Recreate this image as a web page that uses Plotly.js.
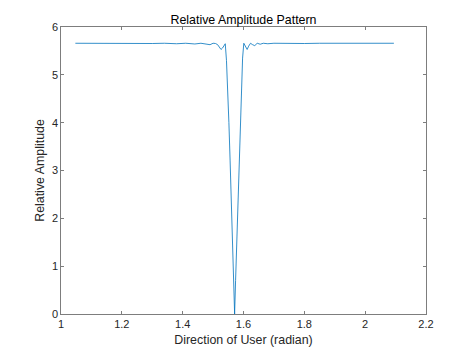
<!DOCTYPE html>
<html>
<head>
<meta charset="utf-8">
<script src="https://cdn.plot.ly/plotly-3.0.1.min.js"></script>
<style>html,body{margin:0;padding:0;background:#fff}#chart{width:471px;height:353px}</style>
</head>
<body>
<div id="chart"></div>
<script>
// Direction of user (radian)
const theta = [1.0472, 1.10, 1.15, 1.20, 1.25, 1.30, 1.34, 1.38, 1.41, 1.44, 1.46, 1.475, 1.49, 1.50, 1.508, 1.515, 1.521, 1.526, 1.531, 1.536, 1.540, 1.544, 1.548, 1.552, 1.556, 1.560, 1.564, 1.5675, 1.5708, 1.574, 1.578, 1.582, 1.586, 1.590, 1.594, 1.597, 1.601, 1.606, 1.612, 1.617, 1.623, 1.630, 1.637, 1.645, 1.655, 1.665, 1.68, 1.70, 1.73, 1.76, 1.80, 1.85, 1.90, 1.95, 2.00, 2.05, 2.0944];
// Relative amplitude
const amplitude = [5.66, 5.657, 5.66, 5.655, 5.66, 5.655, 5.66, 5.65, 5.66, 5.645, 5.66, 5.64, 5.63, 5.66, 5.655, 5.63, 5.57, 5.53, 5.56, 5.62, 5.65, 5.30, 4.75, 4.00, 3.20, 2.33, 1.47, 0.72, 0.0, 0.70, 1.55, 2.40, 3.25, 4.10, 4.85, 5.35, 5.66, 5.59, 5.53, 5.60, 5.66, 5.63, 5.61, 5.66, 5.64, 5.66, 5.65, 5.66, 5.655, 5.66, 5.655, 5.66, 5.657, 5.66, 5.657, 5.66, 5.66];

const xTicks = [1, 1.2, 1.4, 1.6, 1.8, 2, 2.2];
const xTickLabels = ['1', '1.2', '1.4', '1.6', '1.8', '2', '2.2'];
const yTicks = [0, 1, 2, 3, 4, 5, 6];

const axisColor = '#262626';
const font = 'Liberation Sans, Arial, Helvetica, sans-serif';

const trace = {
  x: theta, y: amplitude, type: 'scatter', mode: 'lines',
  line: {color: '#0072BD', width: 0.8}, hoverinfo: 'skip'
};

const layout = {
  width: 471, height: 353,
  margin: {l: 61, r: 45, t: 27, b: 39},
  paper_bgcolor: '#ffffff', plot_bgcolor: '#ffffff',
  font: {family: font, size: 11, color: axisColor},
  showlegend: false,
  title: {
    text: 'Relative Amplitude Pattern',
    font: {family: font, size: 12.4, color: '#000'},
    x: 0.5, xref: 'paper', xanchor: 'center',
    y: 1, yref: 'paper', yanchor: 'bottom', pad: {b: 3}
  },
  xaxis: {
    range: [1, 2.2], tickvals: xTicks, ticktext: xTickLabels,
    ticks: 'inside', ticklen: 3, tickwidth: 0.6, tickcolor: axisColor,
    showline: true, linecolor: axisColor, linewidth: 0.6, mirror: 'ticks',
    showgrid: false, zeroline: false,
    tickfont: {family: font, size: 11, color: axisColor},
    title: {text: 'Direction of User (radian)', font: {family: font, size: 12.4, color: axisColor}, standoff: 6}
  },
  yaxis: {
    range: [0, 6], tickvals: yTicks,
    ticks: 'inside', ticklen: 3, tickwidth: 0.6, tickcolor: axisColor,
    showline: true, linecolor: axisColor, linewidth: 0.6, mirror: 'ticks',
    showgrid: false, zeroline: false,
    tickfont: {family: font, size: 11, color: axisColor},
    title: {text: 'Relative Amplitude', font: {family: font, size: 12.4, color: axisColor}, standoff: 4}
  }
};

Plotly.newPlot('chart', [trace], layout, {staticPlot: true, displayModeBar: false});
</script>
</body>
</html>
